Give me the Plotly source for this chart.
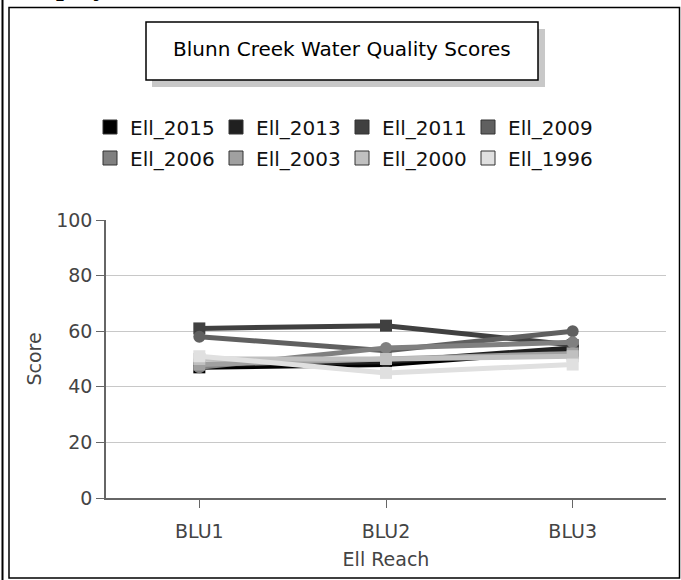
import plotly.graph_objects as go

# ---- data ----
reaches = ["BLU1", "BLU2", "BLU3"]
ell_2015 = [47, 48, 53]
ell_2013 = [48, 49, 54]
ell_2011 = [61, 62, 55]
ell_2009 = [58, 53, 60]
ell_2006 = [47, 54, 56]
ell_2003 = [48, 50, 52]
ell_2000 = [50, 50, 51]
ell_1996 = [51, 45, 48]
series_values = [ell_2015, ell_2013, ell_2011, ell_2009,
                 ell_2006, ell_2003, ell_2000, ell_1996]
legend_labels = ["Ell_2015", "Ell_2013", "Ell_2011", "Ell_2009",
                 "Ell_2006", "Ell_2003", "Ell_2000", "Ell_1996"]
y_ticks = [0, 20, 40, 60, 80, 100]

# ---- styles ----
colors = ["#000000", "#202020", "#404040", "#606060",
          "#808080", "#a0a0a0", "#c0c0c0", "#e0e0e0"]
symbols = ["square", "circle", "square", "circle",
           "circle", "square", "square", "square"]
FONT = "DejaVu Sans"

W_PX, H_PX = 681, 580
L, R, T, B = 106, 15, 220, 82
PW = W_PX - L - R
PH = H_PX - T - B


def px(xp):
    return (xp - L) / PW


def py(yp):
    return (H_PX - B - yp) / PH


fig = go.Figure()

for i, (name, vals) in enumerate(zip(legend_labels, series_values)):
    fig.add_trace(go.Scatter(
        x=reaches, y=vals, name=name, mode="lines+markers",
        line=dict(color=colors[i], width=5),
        marker=dict(color=colors[i], size=12, symbol=symbols[i]),
        showlegend=False,
    ))

# legend-only entries (squares)
for i, name in enumerate(legend_labels):
    fig.add_trace(go.Scatter(
        x=[None], y=[None], name=name, mode="markers",
        marker=dict(color=colors[i], size=14, symbol="square",
                    line=dict(color="#333333", width=1)),
        legend="legend" if i < 4 else "legend2",
    ))

legend_common = dict(
    orientation="h", xanchor="left", yanchor="middle",
    font=dict(family=FONT, size=20, color="#111111"),
    entrywidth=81, entrywidthmode="pixels",
    bgcolor="rgba(0,0,0,0)", borderwidth=0,
    itemclick=False, itemdoubleclick=False,
)

shapes = [
    # page frame
    dict(type="line", xref="paper", yref="paper", x0=px(2.5), x1=px(2.5),
         y0=py(-5), y1=py(585), line=dict(color="#000000", width=2)),
    dict(type="rect", xref="paper", yref="paper", x0=px(9), x1=px(679.5),
         y0=py(7.5), y1=py(578), line=dict(color="#000000", width=1.5)),
    # title box shadow and box
    dict(type="rect", xref="paper", yref="paper", x0=px(152), x1=px(545),
         y0=py(29), y1=py(87), fillcolor="#c8c8c8", line=dict(width=0)),
    dict(type="rect", xref="paper", yref="paper", x0=px(146), x1=px(538),
         y0=py(22), y1=py(80), fillcolor="#ffffff",
         line=dict(color="#000000", width=1.5)),
]

annotations = [
    dict(text="Blunn Creek Water Quality Scores", xref="paper", yref="paper",
         x=px(342), y=py(49), showarrow=False, xanchor="center", yanchor="middle",
         font=dict(family=FONT, size=20, color="#000000")),
    dict(text="<b>Display</b>", xref="paper", yref="paper",
         x=px(15), y=py(3), showarrow=False, xanchor="left", yanchor="bottom",
         font=dict(family="Liberation Serif", size=28, color="#000000")),
]

fig.update_layout(
    width=W_PX, height=H_PX,
    margin=dict(l=L, r=R, t=T, b=B, pad=0),
    paper_bgcolor="#ffffff", plot_bgcolor="#ffffff",
    font=dict(family=FONT, size=19, color="#444444"),
    showlegend=True,
    legend=dict(x=px(90), y=py(127), **legend_common),
    legend2=dict(x=px(90), y=py(158), **legend_common),
    shapes=shapes, annotations=annotations,
    xaxis=dict(
        type="category", range=[-0.5, 2.5],
        showline=True, linecolor="#666666", linewidth=1.5,
        ticks="outside", ticklen=8, tickcolor="#666666", tickwidth=1,
        ticklabelstandoff=7,
        showgrid=False, zeroline=False,
        tickfont=dict(family=FONT, size=19, color="#444444"),
        title=dict(text="Ell Reach", standoff=12,
                   font=dict(family=FONT, size=19, color="#444444")),
    ),
    yaxis=dict(
        range=[0, 100], tickvals=y_ticks,
        showline=True, linecolor="#666666", linewidth=1.5,
        ticks="outside", ticklen=8, tickcolor="#666666", tickwidth=1,
        showgrid=True, gridcolor="#c8c8c8", gridwidth=1, zeroline=False,
        tickfont=dict(family=FONT, size=19, color="#444444"),
        title=dict(text="Score", standoff=10,
                   font=dict(family=FONT, size=19, color="#444444")),
    ),
)

fig.write_html("out.html", config={"displayModeBar": False},
               post_script="document.body.style.margin='0';")
